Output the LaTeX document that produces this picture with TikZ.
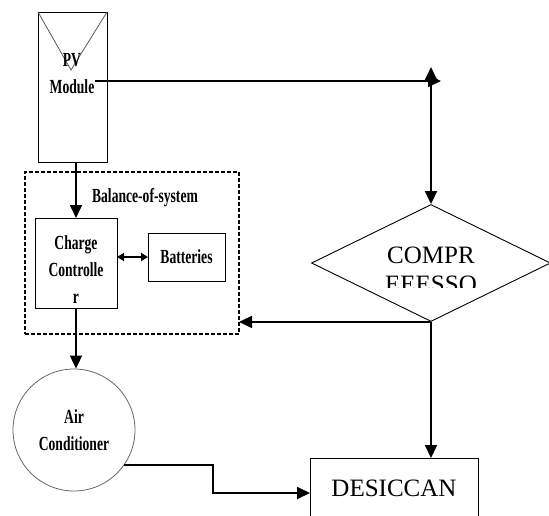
\documentclass[tikz,border=0pt]{standalone}
\usepackage{fontspec}
\setmainfont{Liberation Serif}
\newfontfamily\condfont[FakeStretch=0.68]{Liberation Serif}
\usetikzlibrary{arrows.meta,shapes.geometric}

\begin{document}
\begin{tikzpicture}[x=1pt,y=-1pt,
    box/.style={draw,line width=0.9pt,outer sep=0pt,inner sep=0pt},
    small/.style={font=\condfont\bfseries\fontsize{20}{27}\selectfont,align=center},
    big/.style={font=\fontsize{25}{29}\selectfont,align=center},
    arr/.style={line width=1.8pt,-{Triangle[length=13pt,width=12pt]}},
    dbl/.style={line width=1.8pt,{Triangle[length=13pt,width=12pt]}-{Triangle[length=13pt,width=12pt]}},
    sdbl/.style={line width=1.8pt,{Triangle[length=7pt,width=8pt]}-{Triangle[length=7pt,width=8pt]}}]
    \clip (0,0) rectangle (549,515);

    % PV module
    \node[box,minimum width=69pt,minimum height=150pt] (pv) at (72.5,87) {};
    \draw[gray!70!black,line width=0.8pt] (pv.north west) -- (71,70) -- (pv.north east);
    \node[small] (pvtxt) at (72,74) {PV\\Module};

    % Balance-of-system
    \node[box,line width=1.1pt,dash pattern=on 4pt off 2pt,minimum width=214pt,minimum height=162pt] (bos) at (132,253) {};
    \node[small] (boslbl) at (145,198) {Balance-of-system};
    \node[box,small,minimum width=82pt,minimum height=90pt] (cc) at (76,263) {};
    \node[small] (cctxt) at (76,270) {Charge\\Controlle\\r};
    \node[box,small,minimum width=77pt,minimum height=48pt] (bat) at (186.5,257) {Batteries};

    % Air conditioner
    \node[circle,draw=gray!80!black,line width=0.8pt,minimum size=122pt,small] (ac) at (74,430) {Air\\Conditioner};

    % Compressor (text is cut off)
    \node[diamond,draw,line width=0.9pt,inner sep=0pt,minimum width=239pt,minimum height=117pt] (comp) at (431,263) {};
    \begin{scope}
      \clip (370,235) rectangle (495,287);
      \node[big] (comptxt) at (431,270) {COMPR\\EEESSO};
    \end{scope}

    % Desiccant
    \node[box,big,minimum width=168pt,minimum height=60pt] (des) at (394,488) {DESICCAN};

    % Connectors
    \coordinate (pvout) at (95,81);
    \coordinate (tr) at (441,81);
    \coordinate (tup) at (431,67);
    \coordinate (bend) at (213,493);
    \draw[arr] (cc.north |- pv.south) -- (cc.north);
    \draw[arr] (cc.south) -- (cc.south |- ac.north);
    \draw[sdbl] (cc.east |- bat.west) -- (bat.west);
    \draw[arr] (pvout) -- (tr);
    \draw[dbl] (tup) -- (comp.north);
    \draw[arr] (comp.south) -- (comp.south -| bos.east);
    \draw[arr] (comp.south) -- (comp.south |- des.north);
    \draw[arr] (ac.-35) -| (bend) -- (bend -| des.west);
\end{tikzpicture}
\end{document}
